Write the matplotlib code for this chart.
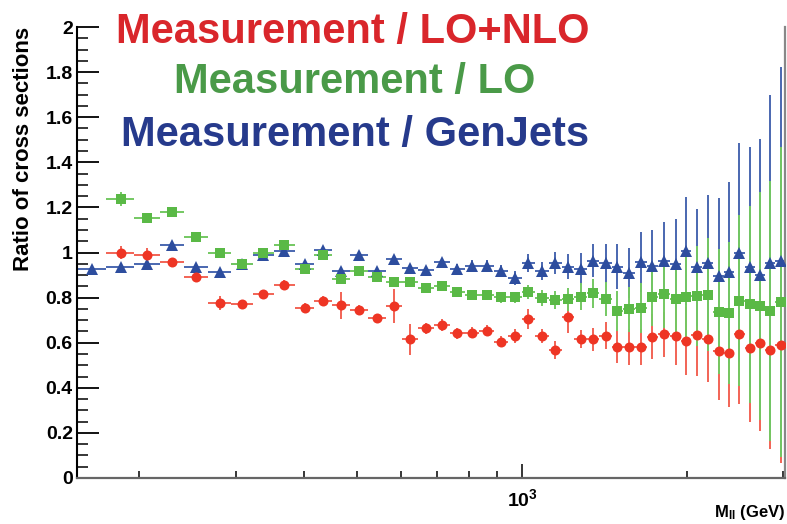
import matplotlib
matplotlib.use("Agg")
import matplotlib.pyplot as plt
import numpy as np
from matplotlib.ticker import LogLocator, NullFormatter, FixedLocator

plt.rcParams['font.family'] = ['Liberation Sans', 'DejaVu Sans']
plt.rcParams['mathtext.fontset'] = 'custom'
plt.rcParams['mathtext.rm'] = 'Liberation Sans'
plt.rcParams['mathtext.bf'] = 'Liberation Sans:bold'

# bin centres in GeV (blue series has one extra bin at the low end)
mass = [164, 185, 207, 230, 254, 281, 308, 337, 368, 402,
        433, 468, 504, 544, 584, 625, 668, 715, 761, 810,
        863, 916, 971, 1026, 1088, 1149, 1213, 1281, 1347, 1423,
        1491, 1568, 1649, 1727, 1816, 1910, 1992, 2086, 2185, 2288,
        2386, 2489, 2607, 2719, 2836, 2969]
x_min, x_max = 154, 3020

# Measurement / GenJets
genjets = [0.925, 0.935, 0.948, 1.033, 0.934, 0.912, 0.950, 0.989, 1.007, 0.948,
           1.011, 0.919, 0.990, 0.918, 0.971, 0.933, 0.922, 0.957, 0.925, 0.942,
           0.942, 0.919, 0.888, 0.952, 0.920, 0.955, 0.937, 0.927, 0.964, 0.952,
           0.937, 0.910, 0.957, 0.942, 0.964, 0.948, 1.007, 0.934, 0.955, 0.896,
           0.912, 0.999, 0.937, 0.900, 0.952, 0.964]
genjets_err = [0.012, 0.015, 0.012, 0.012, 0.012, 0.012, 0.012, 0.012, 0.012, 0.014,
               0.015, 0.015, 0.016, 0.016, 0.018, 0.018, 0.02, 0.02, 0.022, 0.024,
               0.025, 0.027, 0.03, 0.04, 0.04, 0.049, 0.056, 0.069, 0.072, 0.086,
               0.10, 0.112, 0.132, 0.158, 0.173, 0.20, 0.238, 0.259, 0.30, 0.344,
               0.40, 0.485, 0.532, 0.603, 0.746, 0.86]

# Measurement / LO
lo = [1.237, 1.152, 1.178, 1.070, 0.996, 0.948, 0.998, 1.034, 0.925,
      0.990, 0.882, 0.916, 0.893, 0.868, 0.871, 0.841, 0.851, 0.823, 0.812,
      0.812, 0.801, 0.801, 0.826, 0.797, 0.789, 0.792, 0.804, 0.819, 0.792,
      0.741, 0.748, 0.755, 0.804, 0.816, 0.792, 0.804, 0.807, 0.812, 0.738,
      0.733, 0.786, 0.770, 0.763, 0.741, 0.782]
lo_err = [0.033, 0.015, 0.015, 0.015, 0.015, 0.015, 0.015, 0.015, 0.015,
          0.015, 0.015, 0.016, 0.016, 0.017, 0.018, 0.018, 0.019, 0.02, 0.02,
          0.022, 0.024, 0.026, 0.03, 0.035, 0.04, 0.05, 0.06, 0.065, 0.075,
          0.09, 0.10, 0.11, 0.13, 0.15, 0.17, 0.20, 0.222, 0.251, 0.278,
          0.315, 0.38, 0.438, 0.507, 0.576, 0.687]

# Measurement / LO+NLO
nlo = [0.999, 0.989, 0.956, 0.893, 0.775, 0.770, 0.815, 0.856, 0.755,
       0.787, 0.767, 0.746, 0.708, 0.763, 0.615, 0.664, 0.678, 0.642, 0.644,
       0.653, 0.604, 0.630, 0.704, 0.630, 0.568, 0.715, 0.615, 0.615, 0.630,
       0.582, 0.582, 0.582, 0.627, 0.637, 0.630, 0.608, 0.634, 0.615, 0.565,
       0.553, 0.637, 0.575, 0.597, 0.568, 0.590]
nlo_err = [0.03, 0.03, 0.02, 0.025, 0.03, 0.02, 0.02, 0.02, 0.02,
           0.02, 0.06, 0.02, 0.02, 0.076, 0.07, 0.025, 0.025, 0.025, 0.025,
           0.025, 0.025, 0.03, 0.045, 0.03, 0.04, 0.07, 0.04, 0.05, 0.06,
           0.07, 0.08, 0.08, 0.10, 0.10, 0.13, 0.15, 0.18, 0.19, 0.22,
           0.24, 0.31, 0.325, 0.39, 0.44, 0.525]

# bin edges: geometric midpoints between centres
m = np.array(mass, dtype=float)
edges = np.concatenate([[x_min], np.sqrt(m[:-1] * m[1:]), [x_max]])
xerr_all = np.vstack([m - edges[:-1], edges[1:] - m])

fig = plt.figure(figsize=(7.87, 5.24), dpi=100)
ax = fig.add_axes([77 / 787, 1 - 478 / 524, (785 - 77) / 787, (478 - 27) / 524])

series = [
    # values, errors, first bin, marker, marker colour, bar colour, size, zorder
    (nlo, nlo_err, 1, 'o', '#ee3524', '#f26355', 7.2, 5),
    (genjets, genjets_err, 0, '^', '#2d4d9e', '#4a67b0', 8.0, 3),
    (lo, lo_err, 1, 's', '#5ab946', '#74c862', 7.0, 4),
]
for vals, errs, start, mk, mc, bc, ms, z in series:
    x = m[start:]
    ax.errorbar(x, vals, yerr=errs, xerr=xerr_all[:, start:], fmt='none',
                ecolor=bc, elinewidth=1.4, capsize=0, zorder=2)
for vals, errs, start, mk, mc, bc, ms, z in series:
    ax.plot(m[start:], vals, linestyle='none', marker=mk, color=mc,
            markersize=ms, markeredgewidth=0, zorder=z)

ax.set_xscale('log')
ax.set_xlim(x_min, x_max)
ax.set_ylim(0, 2)

ax.xaxis.set_major_locator(FixedLocator([1000]))
ax.set_xticklabels([r'$\mathbf{10^{3}}$'])
ax.xaxis.set_minor_locator(LogLocator(base=10, subs=np.arange(2, 10)))
ax.xaxis.set_minor_formatter(NullFormatter())
ax.set_yticks(np.arange(0, 2.01, 0.2))
ax.set_yticklabels(['0', '0.2', '0.4', '0.6', '0.8', '1', '1.2', '1.4', '1.6', '1.8', '2'])
ax.set_yticks(np.arange(0, 2.001, 0.05), minor=True)

ax.tick_params(axis='y', which='major', direction='in', length=16, width=1.3,
               labelsize=14, pad=3, colors='black')
ax.tick_params(axis='y', which='minor', direction='in', length=8, width=1.1)
ax.tick_params(axis='x', which='major', direction='in', length=10, width=1.1,
               labelsize=14, pad=7)
ax.tick_params(axis='x', which='minor', direction='in', length=5, width=1.1)
for lab in ax.get_yticklabels() + ax.get_xticklabels():
    lab.set_fontweight('bold')

ax.spines['top'].set_visible(False)
ax.spines['left'].set_color('black')
ax.spines['left'].set_linewidth(1.5)
ax.spines['bottom'].set_color('#666666')
ax.spines['bottom'].set_linewidth(1.6)
ax.spines['right'].set_color('#888888')
ax.spines['right'].set_linewidth(1.6)

fig.text(24 / 787, 1 - 27 / 524, 'Ratio of cross sections', rotation=90,
         ha='center', va='top', fontsize=16, fontweight='bold')
fig.text(785 / 787, 1 - 517 / 524, r'$\mathbf{M_{ll}}$ (GeV)', ha='right',
         va='baseline', fontsize=12, fontweight='bold')

titles = [
    ('Measurement / LO+NLO', '#d9262b', 116, 43),
    ('Measurement / LO', '#4a9a48', 174, 93),
    ('Measurement / GenJets', '#263a8c', 121, 146),
]
for txt, col, xpix, ypix in titles:
    fig.text(xpix / 787, 1 - ypix / 524, txt, color=col, fontsize=30,
             fontweight='bold', ha='left', va='baseline')

fig.savefig('out.png', dpi=100)
